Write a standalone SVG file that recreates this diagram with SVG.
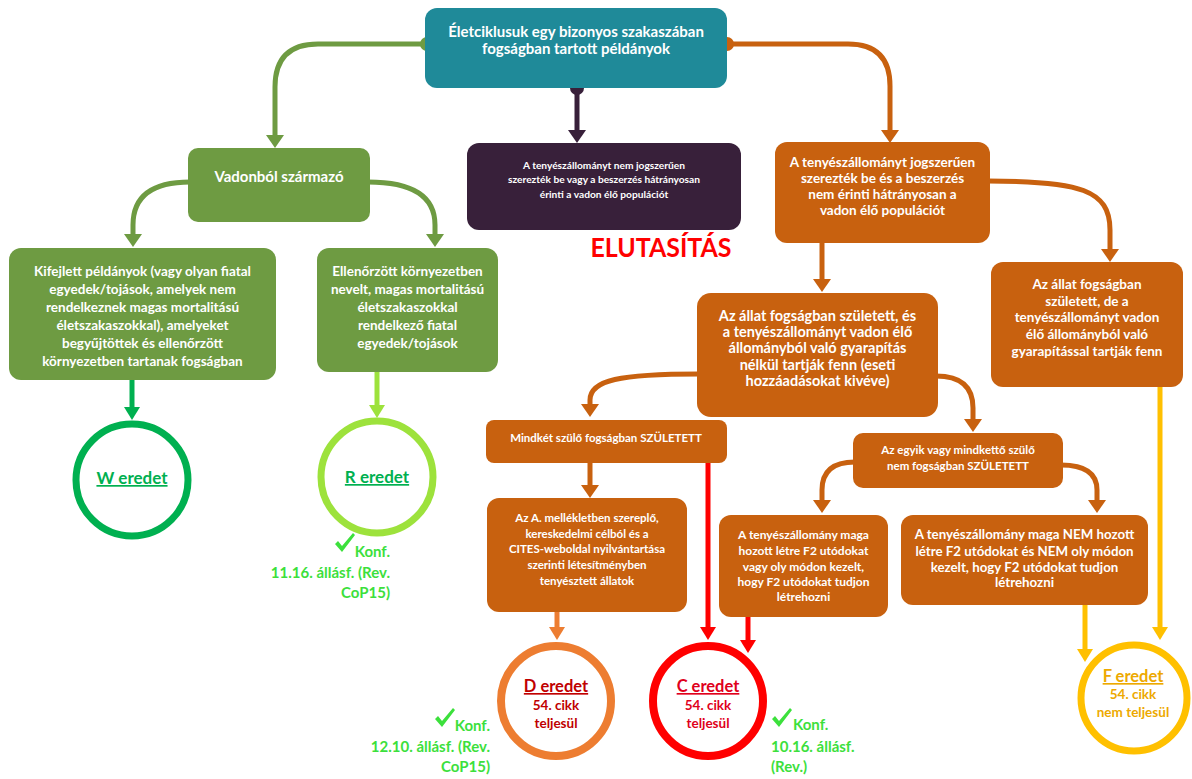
<svg xmlns="http://www.w3.org/2000/svg" width="1192" height="779" viewBox="0 0 1192 779">
<style>
text{font-family:Lato,"Liberation Sans",sans-serif;font-weight:bold;text-anchor:middle}
.w{fill:#ffffff}
.teal{fill:#1F8A99}
.olive{fill:#6E9B42}
.dark{fill:#38203A}
.org{fill:#C8610F}
.ring{fill:#ffffff}
.c{fill:none;stroke-width:5}
.konf{fill:#3CE03C;font-size:15px}
.chk{fill:#3CE03C}
</style>
<defs>
<marker id="aOlive" markerUnits="userSpaceOnUse" markerWidth="14" markerHeight="18" refX="1" refY="9" orient="auto" viewBox="0 0 14 18"><path d="M0,0 L13,9 L0,18 z" fill="#6E9B42"/></marker>
<marker id="aOrg" markerUnits="userSpaceOnUse" markerWidth="14" markerHeight="18" refX="1" refY="9" orient="auto" viewBox="0 0 14 18"><path d="M0,0 L13,9 L0,18 z" fill="#C8610F"/></marker>
<marker id="aDark" markerUnits="userSpaceOnUse" markerWidth="14" markerHeight="18" refX="1" refY="9" orient="auto" viewBox="0 0 14 18"><path d="M0,0 L13,9 L0,18 z" fill="#38203A"/></marker>
<marker id="aW" markerUnits="userSpaceOnUse" markerWidth="14" markerHeight="16" refX="1" refY="8" orient="auto" viewBox="0 0 14 16"><path d="M0,0 L13,8 L0,16 z" fill="#00B050"/></marker>
<marker id="aR" markerUnits="userSpaceOnUse" markerWidth="14" markerHeight="16" refX="1" refY="8" orient="auto" viewBox="0 0 14 16"><path d="M0,0 L13,8 L0,16 z" fill="#9DE23C"/></marker>
<marker id="aD" markerUnits="userSpaceOnUse" markerWidth="14" markerHeight="16" refX="1" refY="8" orient="auto" viewBox="0 0 14 16"><path d="M0,0 L13,8 L0,16 z" fill="#ED7D31"/></marker>
<marker id="aRed" markerUnits="userSpaceOnUse" markerWidth="14" markerHeight="16" refX="1" refY="8" orient="auto" viewBox="0 0 14 16"><path d="M0,0 L13,8 L0,16 z" fill="#FF0000"/></marker>
<marker id="aY" markerUnits="userSpaceOnUse" markerWidth="14" markerHeight="16" refX="1" refY="8" orient="auto" viewBox="0 0 14 16"><path d="M0,0 L13,8 L0,16 z" fill="#FFC000"/></marker>
</defs>
<rect width="1192" height="779" fill="#ffffff"/>

<g id="connectors">
<path class="c" stroke="#6E9B42" d="M431,44 H318 Q275,44 275,87 V136" marker-end="url(#aOlive)"/>
<path class="c" stroke="#C8610F" d="M721,44 H848 Q890,44 890,86 V131" marker-end="url(#aOrg)"/>
<path class="c" stroke="#38203A" d="M577,88 V131" marker-end="url(#aDark)"/>
<circle cx="427" cy="44" r="7" fill="#6E9B42"/>
<circle cx="727" cy="44" r="7" fill="#C8610F"/>
<circle cx="577" cy="88" r="7" fill="#38203A"/>
<path class="c" stroke="#6E9B42" d="M190,182 Q133,182 133,225 V235" marker-end="url(#aOlive)"/>
<path class="c" stroke="#6E9B42" d="M368,182 Q435,182 435,225 V235" marker-end="url(#aOlive)"/>
<path class="c" stroke="#00B050" d="M132,380 V408" marker-end="url(#aW)"/>
<path class="c" stroke="#9DE23C" d="M377,372 V406" marker-end="url(#aR)"/>
<path class="c" stroke="#C8610F" d="M822,243 V280" marker-end="url(#aOrg)"/>
<path class="c" stroke="#C8610F" d="M988,181 C1080,181 1110,190 1110,230 V250" marker-end="url(#aOrg)"/>
<path class="c" stroke="#C8610F" d="M699,374 C620,374 590,380 590,400 V405" marker-end="url(#aOrg)"/>
<path class="c" stroke="#C8610F" d="M936,376 C962,376 973,388 973,408 V420" marker-end="url(#aOrg)"/>
<path class="c" stroke="#C8610F" d="M590,463 V486" marker-end="url(#aOrg)"/>
<path class="c" stroke="#FF0000" stroke-width="4" d="M708,463 V628" marker-end="url(#aRed)"/>
<path class="c" stroke="#ED7D31" stroke-width="4" d="M557,612 V628" marker-end="url(#aD)"/>
<path class="c" stroke="#C8610F" d="M855,462 Q822,462 822,490 V501" marker-end="url(#aOrg)"/>
<path class="c" stroke="#C8610F" d="M1061,465 Q1097,465 1097,490 V501" marker-end="url(#aOrg)"/>
<path class="c" stroke="#FF0000" stroke-width="4" d="M748,617 V641" marker-end="url(#aRed)"/>
<path class="c" stroke="#FFC000" stroke-width="4" d="M1085,605 V650" marker-end="url(#aY)"/>
<path class="c" stroke="#FFC000" stroke-width="4" d="M1160,387 V628" marker-end="url(#aY)"/>
</g>

<g id="n-top">
<rect class="teal" x="425" y="8" width="302" height="80" rx="12"/>
<text class="w" font-size="15" x="576" y="37">Életciklusuk egy bizonyos szakaszában</text>
<text class="w" font-size="15" x="576" y="54">fogságban tartott példányok</text>
</g>

<g id="n-vadon">
<rect class="olive" x="188" y="148" width="182" height="74" rx="10"/>
<text class="w" font-size="15" x="279" y="182">Vadonból származó</text>
</g>

<g id="n-kifejlett" font-size="13.5">
<rect class="olive" x="9" y="248" width="267" height="132" rx="12"/>
<text class="w" x="142.5" y="276">Kifejlett példányok (vagy olyan fiatal</text>
<text class="w" x="142.5" y="294">egyedek/tojások, amelyek nem</text>
<text class="w" x="142.5" y="312">rendelkeznek magas mortalitású</text>
<text class="w" x="142.5" y="330">életszakaszokkal), amelyeket</text>
<text class="w" x="142.5" y="348">begyűjtöttek és ellenőrzött</text>
<text class="w" x="142.5" y="366">környezetben tartanak fogságban</text>
</g>

<g id="n-ellenorzott" font-size="13.5">
<rect class="olive" x="317" y="248" width="181" height="124" rx="12"/>
<text class="w" x="407.5" y="276">Ellenőrzött környezetben</text>
<text class="w" x="407.5" y="294">nevelt, magas mortalitású</text>
<text class="w" x="407.5" y="312">életszakaszokkal</text>
<text class="w" x="407.5" y="330">rendelkező fiatal</text>
<text class="w" x="407.5" y="348">egyedek/tojások</text>
</g>

<g id="n-dark" font-size="10.2">
<rect class="dark" x="467" y="143" width="274" height="87" rx="12"/>
<text class="w" x="604" y="169">A tenyészállományt nem jogszerűen</text>
<text class="w" x="604" y="183">szerezték be vagy a beszerzés hátrányosan</text>
<text class="w" x="604" y="198">érinti a vadon élő populációt</text>
</g>

<g id="n-elutasitas">
<text x="661" y="257" font-size="27" fill="#FF0000" textLength="141" lengthAdjust="spacingAndGlyphs">ELUTASÍTÁS</text>
</g>

<g id="n-legal" font-size="13.5">
<rect class="org" x="775" y="142" width="215" height="101" rx="12"/>
<text class="w" x="882.5" y="167">A tenyészállományt jogszerűen</text>
<text class="w" x="882.5" y="183">szerezték be és a beszerzés</text>
<text class="w" x="882.5" y="199">nem érinti hátrányosan a</text>
<text class="w" x="882.5" y="215">vadon élő populációt</text>
</g>

<g id="n-right" font-size="13.5">
<rect class="org" x="991" y="262" width="192" height="125" rx="12"/>
<text class="w" x="1087" y="289">Az állat fogságban</text>
<text class="w" x="1087" y="306">született, de a</text>
<text class="w" x="1087" y="322">tenyészállományt vadon</text>
<text class="w" x="1087" y="339">élő állományból való</text>
<text class="w" x="1087" y="356">gyarapítással tartják fenn</text>
</g>

<g id="n-middle" font-size="14.5">
<rect class="org" x="697" y="293" width="241" height="124" rx="14"/>
<text class="w" x="817.5" y="321">Az állat fogságban született, és</text>
<text class="w" x="817.5" y="337">a tenyészállományt vadon élő</text>
<text class="w" x="817.5" y="353">állományból való gyarapítás</text>
<text class="w" x="817.5" y="370">nélkül tartják fenn (eseti</text>
<text class="w" x="817.5" y="386">hozzáadásokat kivéve)</text>
</g>

<g id="n-mindket" font-size="11.5">
<rect class="org" x="486" y="420" width="241" height="43" rx="8"/>
<text class="w" x="606" y="442">Mindkét szülő fogságban SZÜLETETT</text>
</g>

<g id="n-azA" font-size="11.5">
<rect class="org" x="487" y="498" width="200" height="114" rx="12"/>
<text class="w" x="587" y="522">Az A. mellékletben szereplő,</text>
<text class="w" x="587" y="538">kereskedelmi célból és a</text>
<text class="w" x="587" y="553">CITES-weboldal nyilvántartása</text>
<text class="w" x="587" y="569">szerinti létesítményben</text>
<text class="w" x="587" y="585">tenyésztett állatok</text>
</g>

<g id="n-egyik" font-size="11.5">
<rect class="org" x="853" y="433" width="210" height="55" rx="10"/>
<text class="w" x="958" y="454">Az egyik vagy mindkettő szülő</text>
<text class="w" x="958" y="470">nem fogságban SZÜLETETT</text>
</g>

<g id="n-hozott" font-size="12">
<rect class="org" x="719" y="515" width="169" height="102" rx="12"/>
<text class="w" x="803.5" y="539">A tenyészállomány maga</text>
<text class="w" x="803.5" y="555">hozott létre F2 utódokat</text>
<text class="w" x="803.5" y="571">vagy oly módon kezelt,</text>
<text class="w" x="803.5" y="586">hogy F2 utódokat tudjon</text>
<text class="w" x="803.5" y="601">létrehozni</text>
</g>

<g id="n-nem" font-size="13.3">
<rect class="org" x="901" y="515" width="247" height="90" rx="12"/>
<text class="w" x="1024.5" y="539">A tenyészállomány maga NEM hozott</text>
<text class="w" x="1024.5" y="556">létre F2 utódokat és NEM oly módon</text>
<text class="w" x="1024.5" y="572">kezelt, hogy F2 utódokat tudjon</text>
<text class="w" x="1024.5" y="587">létrehozni</text>
</g>

<g id="n-W">
<circle class="ring" cx="132" cy="480" r="56" stroke="#00B050" stroke-width="7"/>
<text x="132" y="484" font-size="17" fill="#00B050" text-decoration="underline">W eredet</text>
</g>

<g id="n-R">
<circle class="ring" cx="377" cy="477" r="56" stroke="#9DE23C" stroke-width="7"/>
<text x="377" y="483" font-size="17" fill="#00B050" text-decoration="underline">R eredet</text>
<path class="chk" d="M335,544 L338,541 L342,546 L353,533 L355,535 L342,552 z"/>
<text class="konf" x="390" y="557" style="text-anchor:end">Konf.</text>
<text class="konf" x="390" y="578" style="text-anchor:end">11.16. állásf. (Rev.</text>
<text class="konf" x="390" y="598" style="text-anchor:end">CoP15)</text>
</g>

<g id="n-D">
<circle class="ring" cx="556" cy="701" r="55" stroke="#ED7D31" stroke-width="8"/>
<text x="556" y="692" font-size="16.5" fill="#C00000" text-decoration="underline">D eredet</text>
<text x="556" y="710" font-size="13.5" fill="#C00000">54. cikk</text>
<text x="556" y="728" font-size="13.5" fill="#C00000">teljesül</text>
<path class="chk" d="M435,719 L438,716 L442,721 L453,708 L455,710 L442,727 z"/>
<text class="konf" x="490" y="731" style="text-anchor:end">Konf.</text>
<text class="konf" x="490" y="752" style="text-anchor:end">12.10. állásf. (Rev.</text>
<text class="konf" x="490" y="772" style="text-anchor:end">CoP15)</text>
</g>

<g id="n-C">
<circle class="ring" cx="708" cy="701" r="55" stroke="#FF0000" stroke-width="8"/>
<text x="708" y="692" font-size="16.5" fill="#E0001B" text-decoration="underline">C eredet</text>
<text x="708" y="710" font-size="13.5" fill="#E0001B">54. cikk</text>
<text x="708" y="728" font-size="13.5" fill="#E0001B">teljesül</text>
<path class="chk" d="M772,719 L775,716 L779,721 L790,708 L792,710 L779,727 z"/>
<text class="konf" x="793" y="730" style="text-anchor:start">Konf.</text>
<text class="konf" x="771" y="752" style="text-anchor:start">10.16. állásf.</text>
<text class="konf" x="771" y="772" style="text-anchor:start">(Rev.)</text>
</g>

<g id="n-F">
<circle class="ring" cx="1134" cy="698" r="53" stroke="#FFC000" stroke-width="7"/>
<text x="1133" y="682" font-size="16.5" fill="#EDA900" text-decoration="underline">F eredet</text>
<text x="1133" y="699" font-size="13.5" fill="#EDA900">54. cikk</text>
<text x="1133" y="717" font-size="13.5" fill="#EDA900">nem teljesül</text>
</g>
</svg>
